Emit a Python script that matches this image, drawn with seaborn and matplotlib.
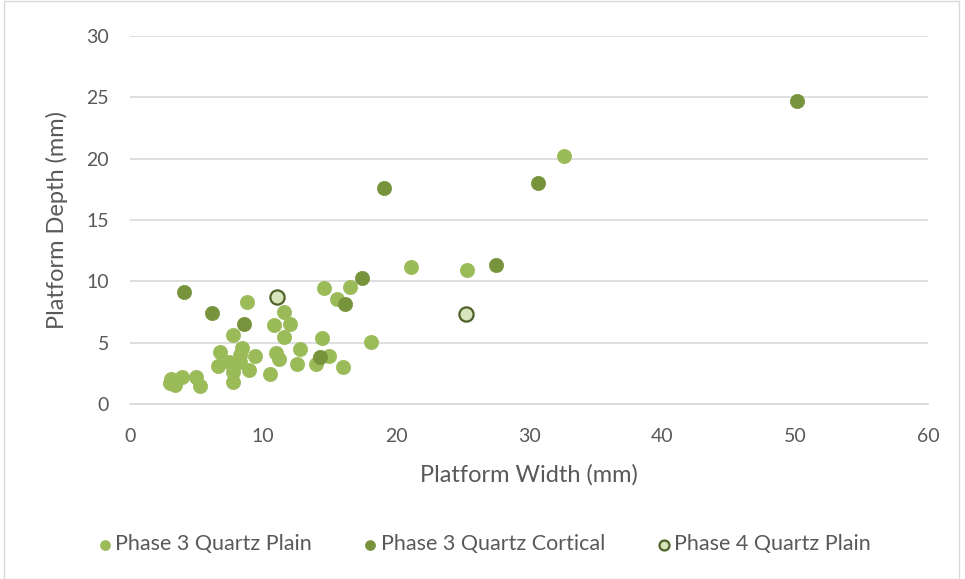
import matplotlib
matplotlib.use("Agg")
import matplotlib.pyplot as plt
import seaborn as sns
import pandas as pd
from matplotlib.patches import Rectangle

# Data
p3_plain_x = [3.0, 3.1, 3.4, 3.9, 4.95, 5.25, 6.6, 6.8, 7.45, 7.75, 7.75, 7.75, 8.4, 8.3, 8.3,
              8.95, 9.4, 8.8, 10.5, 10.85, 10.95, 11.2, 11.6, 12.0, 11.6, 12.75, 12.55, 14.0,
              14.4, 15.0, 16.05, 14.55, 15.55, 16.55, 18.1, 21.15, 25.35, 32.65]
p3_plain_y = [1.7, 2.0, 1.55, 2.2, 2.2, 1.5, 3.1, 4.25, 3.45, 2.65, 1.8, 5.6, 4.6, 4.0, 3.45,
              2.8, 3.95, 8.35, 2.45, 6.45, 4.2, 3.7, 7.5, 6.55, 5.5, 4.45, 3.25, 3.25,
              5.35, 3.95, 3.05, 9.45, 8.6, 9.55, 5.05, 11.2, 10.95, 20.2]
p3_cort_x = [4.05, 6.15, 8.55, 14.3, 16.15, 17.45, 19.1, 27.55, 30.7, 50.15]
p3_cort_y = [9.1, 7.4, 6.55, 3.85, 8.15, 10.3, 17.6, 11.3, 18.0, 24.7]
p4_plain_x = [11.05, 25.25]
p4_plain_y = [8.7, 7.3]

series_names = ["Phase 3 Quartz Plain", "Phase 3 Quartz Cortical", "Phase 4 Quartz Plain"]
x_ticks = [0, 10, 20, 30, 40, 50, 60]
y_ticks = [0, 5, 10, 15, 20, 25, 30]

df = pd.concat([
    pd.DataFrame({"x": p3_plain_x, "y": p3_plain_y, "s": series_names[0]}),
    pd.DataFrame({"x": p3_cort_x, "y": p3_cort_y, "s": series_names[1]}),
    pd.DataFrame({"x": p4_plain_x, "y": p4_plain_y, "s": series_names[2]}),
])

sns.set_theme(style="white")
plt.rcParams["font.family"] = ["Lato", "DejaVu Sans"]

fig = plt.figure(figsize=(9.65, 5.79), dpi=100)
ax = fig.add_axes([0.1347, 0.3022, 0.8270, 0.6356])

styles = {
    series_names[0]: dict(color="#9BBB59", edgecolor="#9BBB59", linewidth=0.5),
    series_names[1]: dict(color="#77933C", edgecolor="#77933C", linewidth=0.5),
    series_names[2]: dict(color="#D7E4BD", edgecolor="#4F6228", linewidth=1.6),
}
for name in series_names:
    sub = df[df["s"] == name]
    sns.scatterplot(data=sub, x="x", y="y", ax=ax, s=105, label=name, zorder=3, **styles[name])

ax.set_xlim(0, 60)
ax.set_ylim(0, 30)
ax.set_xticks(x_ticks)
ax.set_yticks(y_ticks)
ax.yaxis.grid(True, color="#D9D9D9", linewidth=1.2)
ax.xaxis.grid(False)
for sp in ["top", "right", "left"]:
    ax.spines[sp].set_visible(False)
ax.spines["bottom"].set_color("#D9D9D9")
ax.spines["bottom"].set_linewidth(1.2)
ax.tick_params(axis="both", length=0, labelsize=14, colors="#595959")
ax.tick_params(axis="x", pad=17)
ax.tick_params(axis="y", pad=15)
ax.set_xlabel("Platform Width (mm)", fontsize=17, color="#595959", labelpad=14)
ax.set_ylabel("Platform Depth (mm)", fontsize=17, color="#595959", labelpad=13)

ax.get_legend().remove()
handles, labels = ax.get_legend_handles_labels()
leg = fig.legend(handles, labels, loc="center", bbox_to_anchor=(0.5, 0.06), ncol=3,
                 frameon=False, fontsize=15.5, markerscale=0.7, handletextpad=0.0,
                 columnspacing=2.2, handlelength=1.0, labelcolor="#595959")

fig.patches.append(Rectangle((0.004, 0.0), 0.99, 0.998, transform=fig.transFigure,
                             fill=False, edgecolor="#D9D9D9", linewidth=1))

fig.savefig("out.png", dpi=100)
